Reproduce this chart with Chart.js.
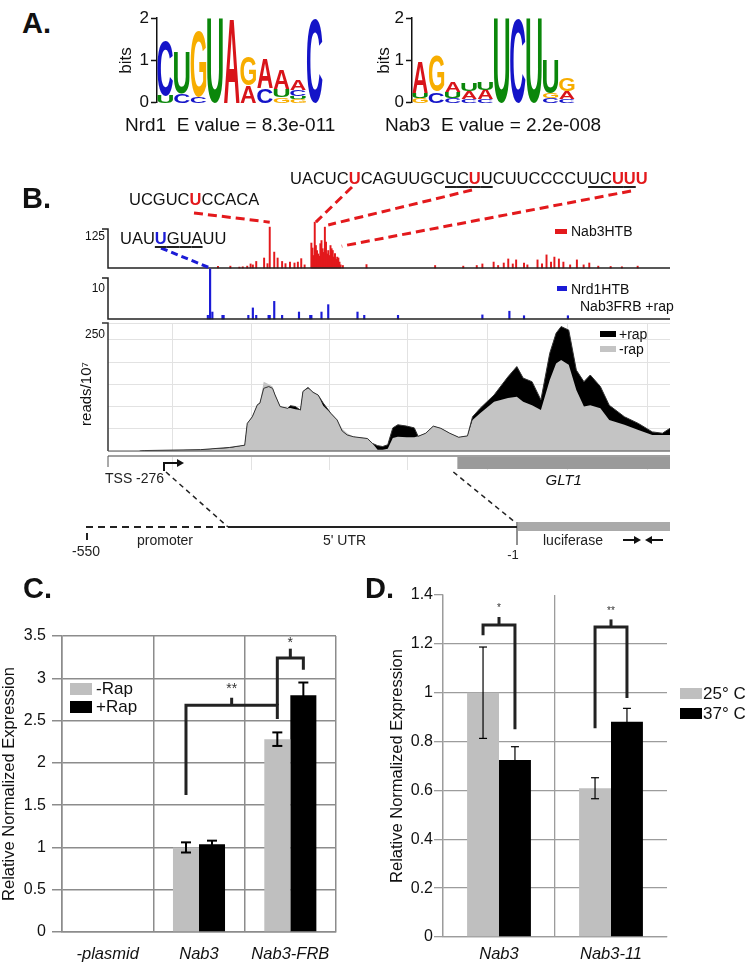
<!DOCTYPE html>
<html>
<head>
<meta charset="utf-8">
<title>Nab3 / Nrd1 figure</title>
<script src="https://cdn.jsdelivr.net/npm/chart.js"></script>
<style>
  html, body { margin: 0; padding: 0; background: #fff; }
  body { position: relative; width: 750px; height: 966px; overflow: hidden;
         font-family: 'Liberation Sans', Arial, Helvetica, sans-serif; color: #111; }
  canvas { position: absolute; }
  .t { position: absolute; line-height: 0; white-space: pre; }
</style>
</head>
<body>
<canvas id="logoNrd1" width="240" height="110" style="left:100px;top:5px"></canvas>
<canvas id="logoNab3" width="240" height="110" style="left:360px;top:5px"></canvas>
<canvas id="trackNab3" width="750" height="115" style="left:0;top:160px"></canvas>
<canvas id="trackNrd1" width="750" height="60" style="left:0;top:262px"></canvas>
<canvas id="trackCov" width="750" height="140" style="left:0;top:318px"></canvas>
<canvas id="trackAnno" width="750" height="116" style="left:0;top:450px"></canvas>
<canvas id="chartC" width="345" height="366" style="left:0;top:600px"></canvas>
<canvas id="chartD" width="375" height="386" style="left:375px;top:580px"></canvas>
<script>
// ---------- data ----------
// A. motif logos, one column per position, letters bottom -> top with height in bits
const nrd1Logo = [
  [['U', 0.17], ['C', 1.29]],
  [['C', 0.22], ['U', 0.98]],
  [['C', 0.15], ['G', 1.54]],
  [['U', 1.98]],
  [['A', 1.98]],
  [['A', 0.41], ['G', 0.68]],
  [['C', 0.34], ['A', 0.71]],
  [['G', 0.13], ['U', 0.19], ['A', 0.47]],
  [['G', 0.08], ['U', 0.07], ['C', 0.15], ['A', 0.23]],
  [['C', 1.98]]
];
const nab3Logo = [
  [['G', 0.11], ['U', 0.11], ['A', 0.72]],
  [['C', 0.26], ['G', 0.83]],
  [['C', 0.11], ['U', 0.15], ['A', 0.23]],
  [['C', 0.08], ['A', 0.19], ['U', 0.18]],
  [['C', 0.08], ['A', 0.23], ['U', 0.18]],
  [['U', 1.98]],
  [['C', 1.98]],
  [['U', 1.98]],
  [['C', 0.11], ['G', 0.11], ['U', 0.8]],
  [['C', 0.08], ['A', 0.19], ['G', 0.3]]
];
const letterColors = { A: '#d8141a', C: '#1414c8', G: '#f7ad00', U: '#0b870b' };

// B. crosslink tracks, positions in nt relative to GLT1 start
const trackStart = -276, trackEnd = 168, glt1Start = 0;
const nab3Pos = [-206,-195,-187,-184,-180,-177,-175,-172,-165,-162,-160,-156,-153,-149,-146,-142,-138,-135,-132,-129,
  -123,-122,-121,-120,-119,-118,-117,-116,-115,-114,-113,-112,-111,-110,-109,-108,-107,-106,-105,-104,-103,-102,-101,-100,-99,-98,-97,-95,
  -74,-13,12,24,29,39,43,48,52,56,59,66,69,78,82,86,90,93,97,101,107,113,119,124,132,143,153,167];
const nab3Reads = [5,6,3,4,6,13,10,21,32,14,131,51,32,21,14,19,16,19,30,10,
  80,64,40,147,72,56,45,38,78,88,62,50,131,83,45,56,40,72,62,56,35,46,28,35,32,19,10,8,
  11,8,6,8,13,19,8,16,29,13,26,16,10,26,13,42,19,35,29,19,10,26,10,16,6,5,4,6];
const nrd1Pos = [-215,-213,-211,-202,-201,-179,-175,-172,-161,-160,-156,-149,-134,-124,-123,-114,-108,-82,-76,-46,29,53,66,105];
const nrd1Reads = [0.9,12.2,1.7,0.9,0.9,0.9,2.7,0.9,0.9,0.9,4.3,0.9,1.7,0.9,0.9,1.7,3.5,1.7,0.9,0.9,1.0,1.9,0.8,0.8];
// peaks that carry the sequence call-outs: [position, reads]
const nab3Callouts = [[-160, 147], [-119, 147], [-108, 138], [-96, 70]];
const nrd1Callout = [-213, 0];

// RNA pol II coverage, reads/10^7
const covPos = [-251,-247,-203,-180,-168,-166,-162,-158,-156,-153,-149,-146,-144,-140,-134,-132,-128,-124,-122,-118,-114,-110,-106,-100,
  -95,-91,-87,-82,-71,-67,-63,-59,-55,-51,-47,-40,-34,-31,-25,-19,-13,-6,1,8,12,18,29,40,47,52,59,66,73,78,82,88,94,100,105,113,120,132,143,154,162,168];
const covMinusRap = [0,1,3,7,13,62,77,104,107,156,150,145,126,100,96,97,94,92,134,141,134,126,102,85,
  70,50,40,32,29,17,3,3,5,29,32,31,31,33,40,56,51,40,31,34,70,85,111,119,122,111,103,92,160,197,205,194,137,100,103,96,70,59,47,36,36,36];
const covPlusRap = [0,1,3,8,13,62,77,104,108,141,145,141,126,100,96,102,100,92,134,143,132,126,108,85,
  70,45,36,32,28,17,12,10,14,52,59,56,52,33,40,56,51,40,31,34,77,96,126,167,190,164,156,115,220,265,280,272,182,156,171,145,103,77,62,43,40,51];
const covGridPos = [-225, -163, -101, -39, 24, 87, 150];

// C. luciferase reporter
const cCategories = ['-plasmid', 'Nab3', 'Nab3-FRB'];
const cMinusRap = [0, 1.0, 2.28];
const cPlusRap = [0, 1.037, 2.8];
const cErrMinus = [null, 0.06, 0.08];
const cErrPlus = [null, 0.043, 0.15];
const cBrackets = [
  { left: [1, 0], right: [2, 0], leftLow: 1.62, rightLow: 2.52, top: 2.68, tick: 2.77, star: 2.87, label: '**' },
  { left: [2, 0], right: [2, 1], leftLow: 2.68, rightLow: 3.1, top: 3.24, tick: 3.35, star: 3.42, label: '*' }
];

// D. temperature shift
const dCategories = ['Nab3', 'Nab3-11'];
const d25C = [1.0, 0.609];
const d37C = [0.725, 0.881];
const dErr25 = [0.187, 0.043];
const dErr37 = [0.054, 0.055];
const dBrackets = [
  { left: [0, 0], right: [0, 1], leftLow: 1.235, rightLow: 0.85, top: 1.277, tick: 1.31, star: 1.345, label: '*' },
  { left: [1, 0], right: [1, 1], leftLow: 0.855, rightLow: 0.978, top: 1.269, tick: 1.30, star: 1.335, label: '**' }
];

// ---------- helpers ----------
const FONT = "'Liberation Sans', Arial, Helvetica, sans-serif";
Chart.defaults.font.family = FONT;
Chart.defaults.color = '#111';
Chart.defaults.animation = false;
Chart.defaults.responsive = false;
Chart.defaults.devicePixelRatio = 1;
Chart.defaults.plugins.legend.display = false;
Chart.defaults.plugins.tooltip.enabled = false;

// 3 instead of 3.0, 0.8 instead of 0.80000001
const plainTick = v => String(Number(v.toFixed(2)));

function drawText(ctx, s, x, y, size, o = {}) {
  ctx.save();
  ctx.font = `${o.style || 'normal'} ${o.weight || 'normal'} ${size}px ${FONT}`;
  ctx.fillStyle = o.color || '#111';
  ctx.textAlign = o.align || 'left';
  ctx.textBaseline = o.baseline || 'alphabetic';
  if (o.rotate) { ctx.translate(x, y); ctx.rotate(o.rotate); ctx.fillText(s, 0, 0); }
  else ctx.fillText(s, x, y);
  ctx.restore();
}

function poly(ctx, pts, color, width, dash) {
  ctx.save();
  ctx.strokeStyle = color;
  ctx.lineWidth = width;
  ctx.setLineDash(dash || []);
  ctx.beginPath();
  pts.forEach((p, i) => i ? ctx.lineTo(p[0], p[1]) : ctx.moveTo(p[0], p[1]));
  ctx.stroke();
  ctx.restore();
}

function arrowHead(ctx, x, y, dir) {
  ctx.beginPath();
  ctx.moveTo(x, y);
  ctx.lineTo(x - dir * 7, y - 4);
  ctx.lineTo(x - dir * 7, y + 4);
  ctx.closePath();
  ctx.fill();
}

// page text placed by baseline
function put(html, x, base, size, css) {
  const d = document.createElement('div');
  d.className = 't';
  d.style.cssText = `left:${x}px;top:${base - 0.3465 * size}px;font-size:${size}px;${css || ''}`;
  d.innerHTML = html;
  document.body.appendChild(d);
}

function seqHtml(seq, marked, color, under) {
  return seq.split('').map((c, i) => {
    const u = under.some(([a, b]) => i >= a && i <= b);
    let st = marked.includes(i) ? `color:${color};font-weight:bold;` : 'color:#111;';
    if (u) st += 'text-decoration:underline;text-decoration-color:#222;text-decoration-thickness:1.5px;text-underline-offset:2px;';
    return `<span style="${st}">${c}</span>`;
  }).join('');
}

// ---------- A. logos ----------
function drawGlyph(ctx, ch, x0, y0, w, h) {
  if (h < 0.5) return;
  ctx.save();
  ctx.font = `bold 100px ${FONT}`;
  const m = ctx.measureText(ch);
  const gw = m.actualBoundingBoxLeft + m.actualBoundingBoxRight;
  const gh = m.actualBoundingBoxAscent + m.actualBoundingBoxDescent;
  ctx.translate(x0, y0);
  ctx.scale(w / gw, h / gh);
  ctx.fillStyle = letterColors[ch];
  ctx.fillText(ch, m.actualBoundingBoxLeft, m.actualBoundingBoxAscent);
  ctx.restore();
}

function logoChart(id, cols, axisW, padLeft, padRight) {
  new Chart(document.getElementById(id), {
    type: 'bar',
    data: {
      labels: cols.map((c, i) => i + 1),
      datasets: [{ data: cols.map(c => c.reduce((s, l) => s + l[1], 0)), backgroundColor: 'rgba(0,0,0,0)' }]
    },
    options: {
      layout: { padding: { left: padLeft, right: padRight, top: 13, bottom: 8 } },
      scales: {
        x: { display: false },
        y: {
          min: 0, max: 2,
          afterFit: s => { s.width = axisW; },
          ticks: { stepSize: 1, padding: 2, font: { size: 17 }, color: '#111' },
          grid: { drawOnChartArea: false, tickLength: 6, tickColor: '#111', tickWidth: 1.5 },
          border: { color: '#111', width: 1.5 },
          title: { display: true, text: 'bits', font: { size: 17 }, color: '#111', padding: 0 }
        }
      }
    },
    plugins: [{
      id: 'logoLetters',
      afterDatasetsDraw(chart) {
        const { ctx, scales: { x, y } } = chart;
        const colW = x.getPixelForValue(1) - x.getPixelForValue(0);
        cols.forEach((col, i) => {
          const cx = x.getPixelForValue(i);
          let base = 0;
          col.forEach(([ch, h]) => {
            const yb = y.getPixelForValue(base), yt = y.getPixelForValue(base + h);
            drawGlyph(ctx, ch, cx - colW * 0.47, yt, colW * 0.94, yb - yt);
            base += h;
          });
        });
      }
    }]
  });
}

logoChart('logoNrd1', nrd1Logo, 41, 16, 17);
logoChart('logoNab3', nab3Logo, 38, 14, 25);

// ---------- B. tracks ----------
const xTrack = { type: 'linear', min: trackStart, max: trackEnd, display: false };

function trackAxis(ctx, a, label, labelY) {
  poly(ctx, [[a.left - 6, a.top], [a.left, a.top], [a.left, a.bottom], [a.right, a.bottom]], '#222', 1.5);
  drawText(ctx, label, a.left - 3, labelY, 12, { align: 'right', baseline: 'middle' });
}

new Chart(document.getElementById('trackNab3'), {
  type: 'bar',
  data: { datasets: [{ data: nab3Pos.map((p, i) => ({ x: p, y: nab3Reads[i] })), backgroundColor: '#e3191c', barThickness: 1.3, clip: false }] },
  options: {
    layout: { padding: { left: 108, right: 80, top: 69, bottom: 7 } },
    scales: { x: xTrack, y: { min: 0, max: 125, display: false } }
  },
  plugins: [{
    id: 'nab3Decor',
    afterDatasetsDraw(chart) {
      const { ctx, chartArea: a, scales: { x, y } } = chart, oy = 160;
      trackAxis(ctx, a, '125', a.top + 8);
      ctx.fillStyle = '#e3191c';
      ctx.fillRect(555, 229 - oy, 12, 5);
      drawText(ctx, 'Nab3HTB', 571, 236 - oy, 14);
      // call-out lines from the sequences down to their peaks
      const from = [[194, 213], [352, 187], [472, 190], [631, 191]];
      nab3Callouts.forEach(([p, v], i) => {
        poly(ctx, [[from[i][0], from[i][1] - oy], [x.getPixelForValue(p), y.getPixelForValue(v)]], '#e3191c', 3, [9, 5]);
      });
      poly(ctx, [[161, 248 - oy], [x.getPixelForValue(nrd1Callout[0]), y.getPixelForValue(nrd1Callout[1])]], '#1b1bd6', 3, [7, 4]);
    }
  }]
});

new Chart(document.getElementById('trackNrd1'), {
  type: 'bar',
  data: { datasets: [{ data: nrd1Pos.map((p, i) => ({ x: p, y: nrd1Reads[i] })), backgroundColor: '#1b1bd6', barThickness: 1.5, clip: false }] },
  options: {
    layout: { padding: { left: 108, right: 80, top: 16, bottom: 3 } },
    scales: { x: xTrack, y: { min: 0, max: 10, display: false } }
  },
  plugins: [{
    id: 'nrd1Decor',
    afterDatasetsDraw(chart) {
      const { ctx, chartArea: a } = chart, oy = 262;
      trackAxis(ctx, a, '10', a.top + 11);
      ctx.fillStyle = '#1b1bd6';
      ctx.fillRect(557, 286 - oy, 10, 5);
      drawText(ctx, 'Nrd1HTB', 571, 294 - oy, 14);
      drawText(ctx, 'Nab3FRB +rap', 580, 311 - oy, 14);
    }
  }]
});

const covPlusXY = covPos.map((p, i) => ({ x: p, y: covPlusRap[i] }));
const covMinusXY = covPos.map((p, i) => ({ x: p, y: covMinusRap[i] }));
const gridX = {
  type: 'linear', min: trackStart, max: trackEnd,
  ticks: { display: false },
  grid: { color: '#e2e2e2', drawTicks: false, lineWidth: 1 },
  border: { display: false },
  afterBuildTicks: s => { s.ticks = covGridPos.map(v => ({ value: v })); },
  afterFit: s => { s.height = 0; }
};

new Chart(document.getElementById('trackCov'), {
  type: 'line',
  data: {
    datasets: [
      { label: '+rap', data: covPlusXY, fill: 'origin', backgroundColor: '#000', borderWidth: 0, pointRadius: 0, order: 3 },
      { label: '-rap', data: covMinusXY, fill: 'origin', backgroundColor: '#c4c4c4', borderWidth: 0, pointRadius: 0, order: 2 },
      { data: covPlusXY, fill: false, borderColor: '#333', borderWidth: 1, pointRadius: 0, order: 1 }
    ]
  },
  options: {
    layout: { padding: { left: 108, right: 80, top: 5, bottom: 7 } },
    scales: {
      x: gridX,
      y: {
        min: 0, max: 288,
        ticks: { display: false, stepSize: 50 },
        grid: { color: '#e2e2e2', drawTicks: false },
        border: { display: false },
        afterFit: s => { s.width = 0; }
      }
    }
  },
  plugins: [{
    id: 'covDecor',
    afterDatasetsDraw(chart) {
      const { ctx, chartArea: a } = chart, oy = 318;
      poly(ctx, [[a.left - 6, a.top], [a.left, a.top], [a.left, a.bottom]], '#333', 1.5);
      poly(ctx, [[a.left, a.bottom], [a.right, a.bottom]], '#555', 1);
      drawText(ctx, '250', a.left - 3, a.top + 12, 12, { align: 'right', baseline: 'middle' });
      drawText(ctx, 'reads/10\u2077', 91, 394 - oy, 15, { align: 'center', rotate: -Math.PI / 2 });
      ctx.fillStyle = '#000';
      ctx.fillRect(600, 331 - oy, 16, 6);
      drawText(ctx, '+rap', 619, 339 - oy, 14);
      ctx.fillStyle = '#c4c4c4';
      ctx.fillRect(600, 346 - oy, 16, 6);
      drawText(ctx, '-rap', 619, 354 - oy, 14);
    }
  }]
});

// gene annotation and reporter construct
const tssPos = -276;
new Chart(document.getElementById('trackAnno'), {
  type: 'line',
  data: { datasets: [] },
  options: {
    layout: { padding: { left: 108, right: 80, top: 6, bottom: 96 } },
    scales: { x: gridX, y: { display: false, min: 0, max: 1 } }
  },
  plugins: [{
    id: 'annoDecor',
    afterDraw(chart) {
      const { ctx, chartArea: a, scales: { x } } = chart, oy = 450;
      poly(ctx, [[a.left, a.top], [a.right, a.top]], '#a0a0a0', 2);
      const gx = x.getPixelForValue(glt1Start);
      ctx.fillStyle = '#9a9a9a';
      ctx.fillRect(gx, a.top + 1, x.getPixelForValue(trackEnd) - gx, 12);
      drawText(ctx, 'GLT1', (gx + a.right) / 2, 485 - oy, 15, { style: 'italic', align: 'center' });
      const tx = x.getPixelForValue(tssPos);
      poly(ctx, [[tx, a.top], [tx, a.top + 11]], '#555', 1);
      drawText(ctx, 'TSS -276', tx - 3, 483 - oy, 14, { color: '#222' });
      // transcription start arrow
      const ax = tx + 56;
      poly(ctx, [[ax, 471 - oy], [ax, 463 - oy], [ax + 14, 463 - oy]], '#111', 2);
      ctx.fillStyle = '#111';
      arrowHead(ctx, ax + 20, 463 - oy, 1);
      // zoom-in guides to the reporter
      poly(ctx, [[ax + 2, 472 - oy], [228, 527 - oy]], '#222', 1.5, [5, 4]);
      poly(ctx, [[gx - 4, 472 - oy], [516, 523 - oy]], '#222', 1.5, [5, 4]);
      // reporter: promoter (dashed), 5' UTR (solid), luciferase (bar)
      poly(ctx, [[87, 540 - oy], [87, 527 - oy], [228, 527 - oy]], '#222', 2, [7, 5]);
      poly(ctx, [[228, 527 - oy], [517, 527 - oy]], '#222', 2);
      poly(ctx, [[517, 522 - oy], [517, 545 - oy]], '#222', 1);
      ctx.fillStyle = '#aaaaaa';
      ctx.fillRect(518, 522 - oy, a.right - 518, 9);
      drawText(ctx, '-550', 86, 556 - oy, 14, { align: 'center', color: '#222' });
      drawText(ctx, 'promoter', 137, 545 - oy, 14, { color: '#222' });
      drawText(ctx, "5' UTR", 323, 545 - oy, 14, { color: '#222' });
      drawText(ctx, '-1', 513, 559 - oy, 13, { align: 'center', color: '#222' });
      drawText(ctx, 'luciferase', 543, 545 - oy, 14, { color: '#222' });
      poly(ctx, [[623, 540 - oy], [636, 540 - oy]], '#111', 2);
      poly(ctx, [[650, 540 - oy], [663, 540 - oy]], '#111', 2);
      ctx.fillStyle = '#111';
      arrowHead(ctx, 641, 540 - oy, 1);
      arrowHead(ctx, 645, 540 - oy, -1);
    }
  }]
});

// ---------- C. / D. bar charts ----------
function errorBars(errs, capW, lw) {
  return {
    id: 'errorBars',
    afterDatasetsDraw(chart) {
      const { ctx, scales: { y } } = chart;
      chart.data.datasets.forEach((ds, di) => {
        const meta = chart.getDatasetMeta(di);
        ds.data.forEach((v, i) => {
          const e = errs[di][i];
          if (e == null) return;
          const bx = meta.data[i].x, yt = y.getPixelForValue(v + e), yb = y.getPixelForValue(v - e);
          poly(ctx, [[bx, yt], [bx, yb]], '#000', lw);
          poly(ctx, [[bx - capW / 2, yt], [bx + capW / 2, yt]], '#000', lw);
          poly(ctx, [[bx - capW / 2, yb], [bx + capW / 2, yb]], '#000', lw);
        });
      });
    }
  };
}

function brackets(list, lw, starSize) {
  return {
    id: 'brackets',
    afterDatasetsDraw(chart) {
      const { ctx, scales: { y } } = chart;
      const bx = ([cat, ds]) => chart.getDatasetMeta(ds).data[cat].x;
      list.forEach(b => {
        const x1 = bx(b.left), x2 = bx(b.right), xm = (x1 + x2) / 2, yt = y.getPixelForValue(b.top);
        poly(ctx, [[x1, y.getPixelForValue(b.leftLow)], [x1, yt], [x2, yt], [x2, y.getPixelForValue(b.rightLow)]], '#222', lw);
        poly(ctx, [[xm, yt], [xm, y.getPixelForValue(b.tick)]], '#222', lw);
        drawText(ctx, b.label, xm, y.getPixelForValue(b.star), starSize, { align: 'center', baseline: 'middle', color: '#333' });
      });
    }
  };
}

function boxLegend(dx, dy, sw, sh, gap, textDx, textDy) {
  return {
    id: 'boxLegend',
    afterDraw(chart) {
      const { ctx, chartArea: a } = chart;
      chart.data.datasets.forEach((ds, i) => {
        ctx.fillStyle = ds.backgroundColor;
        ctx.fillRect(a.left + dx, a.top + dy + i * gap, sw, sh);
        drawText(ctx, ds.label, a.left + dx + textDx, a.top + dy + i * gap + textDy, 17);
      });
    }
  };
}

const gridC = '#8c8c8c';
new Chart(document.getElementById('chartC'), {
  type: 'bar',
  data: {
    labels: cCategories,
    datasets: [
      { label: '-Rap', data: cMinusRap, backgroundColor: '#bfbfbf' },
      { label: '+Rap', data: cPlusRap, backgroundColor: '#000' }
    ]
  },
  options: {
    categoryPercentage: 0.57,
    barPercentage: 1,
    layout: { padding: { left: 0, right: 9, top: 36, bottom: 0 } },
    scales: {
      x: {
        grid: { offset: true, color: gridC, lineWidth: 1.5, drawTicks: false },
        border: { color: gridC, width: 1.5 },
        ticks: { padding: 13, font: { size: 16.5, style: 'italic' }, color: '#111' },
        afterFit: s => { s.height = 34; }
      },
      y: {
        min: 0, max: 3.5,
        ticks: { stepSize: 0.5, padding: 6, font: { size: 16 }, color: '#111', callback: plainTick },
        grid: { color: gridC, lineWidth: 1.5, tickLength: 10, tickColor: gridC },
        border: { color: gridC, width: 1.5 },
        title: { display: true, text: 'Relative Normalized Expression', font: { size: 16.5 }, color: '#111', padding: 0 },
        afterFit: s => { s.width = 62; }
      }
    }
  },
  plugins: [errorBars([cErrMinus, cErrPlus], 10, 2), brackets(cBrackets, 3, 14), boxLegend(8, 47, 22, 12, 18, 26, 11)]
});

const gridD = '#9c9c9c';
const noLine = 'rgba(0,0,0,0)';
new Chart(document.getElementById('chartD'), {
  type: 'bar',
  data: {
    labels: dCategories,
    datasets: [
      { label: '25\u00b0 C', data: d25C, backgroundColor: '#bfbfbf' },
      { label: '37\u00b0 C', data: d37C, backgroundColor: '#000' }
    ]
  },
  options: {
    categoryPercentage: 0.57,
    barPercentage: 1,
    layout: { padding: { left: 13, right: 83, top: 15, bottom: 0 } },
    scales: {
      x: {
        // no frame line on the right edge of D
        grid: { offset: true, color: c => (c.index === undefined || c.index >= 2) ? noLine : gridD, lineWidth: 1.3, drawTicks: false },
        border: { color: gridD, width: 1.3 },
        ticks: { padding: 8, font: { size: 16.5, style: 'italic' }, color: '#111' },
        afterFit: s => { s.height = 29; }
      },
      y: {
        min: 0, max: 1.4,
        ticks: { stepSize: 0.2, padding: 1, font: { size: 16 }, color: '#111', callback: plainTick },
        grid: { color: c => c.tick && c.tick.value > 1.3 ? noLine : gridD, lineWidth: 1.3, tickLength: 9, tickColor: gridD },
        border: { color: gridD, width: 1.3 },
        title: { display: true, text: 'Relative Normalized Expression', font: { size: 16.5 }, color: '#111', padding: 0 },
        afterFit: s => { s.width = 55; }
      }
    }
  },
  plugins: [errorBars([dErr25, dErr37], 8, 1.2), brackets(dBrackets, 3, 10), boxLegend(237, 93, 22, 11, 20, 23, 11)]
});

// ---------- page text ----------
put('A.', 22, 33, 29, 'font-weight:bold');
put('B.', 22, 208, 29, 'font-weight:bold');
put('C.', 23, 598, 29, 'font-weight:bold');
put('D.', 365, 598, 29, 'font-weight:bold');
put('Nrd1  E value = 8.3e-011', 125, 132, 19);
put('Nab3  E value = 2.2e-008', 385, 132, 19);
put(seqHtml('UACUCUCAGUUGCUCUUCUUCCCCUUCUUU', [5, 15, 27, 28, 29], '#e3191c', [[13, 16], [25, 28]]), 290, 184, 16.5);
put(seqHtml('UCGUCUCCACA', [5], '#e3191c', []), 129, 205, 16.5);
put(seqHtml('UAUUGUAUU', [3], '#1b1bd6', [[3, 6]]), 120, 244, 16.5);
</script>
</body>
</html>
